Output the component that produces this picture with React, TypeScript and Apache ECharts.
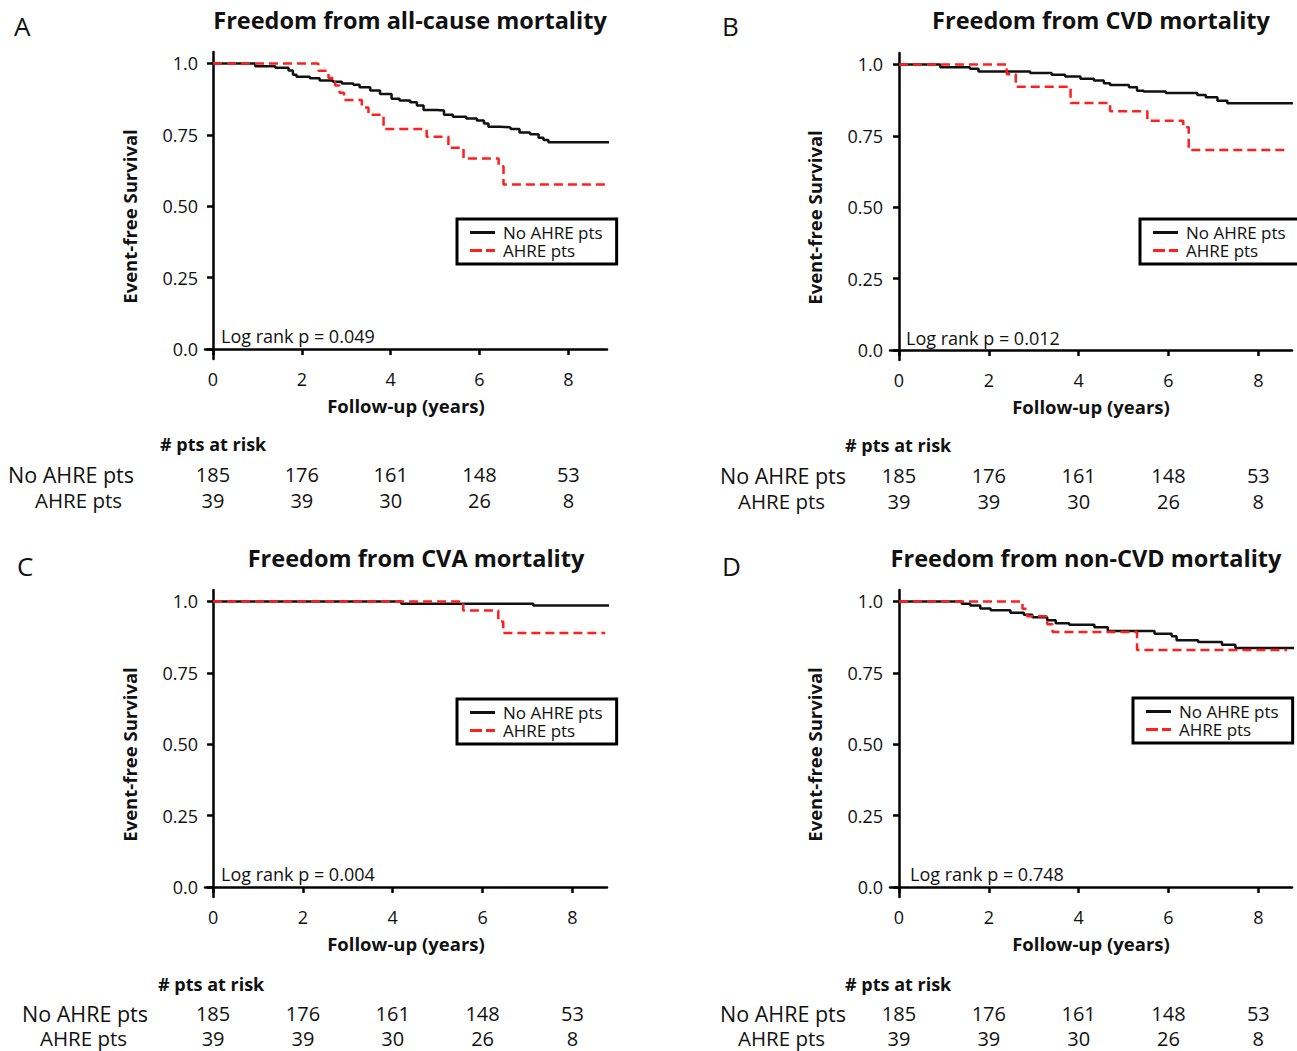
import React, { useEffect, useRef } from "react";
import * as echarts from "echarts";

// ---------- data ----------
const groupNames = ["No AHRE pts", "AHRE pts"];
const yearTicks = [0, 2, 4, 6, 8];
const survivalTicks = [0, 0.25, 0.5, 0.75, 1];
const panelLetters = ["A", "B", "C", "D"];
const panelTitles = [
  "Freedom from all-cause mortality",
  "Freedom from CVD mortality",
  "Freedom from CVA mortality",
  "Freedom from non-CVD mortality",
];
const logRankP = ["0.049", "0.012", "0.004", "0.748"];
const atRiskNoAhre = [185, 176, 161, 148, 53];
const atRiskAhre = [39, 39, 30, 26, 8];

// Kaplan-Meier step points [years, survival]
const allCauseNoAhre: [number, number][] = [
  [0, 1], [0.95, 0.99], [1.4, 0.985], [1.7, 0.975], [1.8, 0.96], [1.88, 0.953],
  [2.18, 0.948], [2.4, 0.94], [2.7, 0.936], [2.9, 0.93], [3.16, 0.925], [3.3, 0.917],
  [3.54, 0.905], [3.76, 0.893], [4.02, 0.876], [4.2, 0.87], [4.44, 0.864], [4.59, 0.853],
  [4.74, 0.837], [5.04, 0.835], [5.2, 0.82], [5.4, 0.813], [5.7, 0.807], [5.94, 0.8],
  [6.1, 0.79], [6.2, 0.778], [6.46, 0.776], [6.7, 0.77], [6.9, 0.758], [7.14, 0.752],
  [7.33, 0.74], [7.44, 0.732], [7.55, 0.724], [9.05, 0.724],
];
const allCauseAhre: [number, number][] = [
  [0, 1], [2.37, 0.974], [2.6, 0.949], [2.75, 0.923], [2.85, 0.897], [2.95, 0.872],
  [3.35, 0.846], [3.5, 0.82], [3.84, 0.77], [4.81, 0.743], [5.3, 0.705], [5.64, 0.667],
  [6.43, 0.64], [6.54, 0.576], [9.0, 0.576],
];
const cvdNoAhre: [number, number][] = [
  [0, 1], [0.92, 0.99], [1.58, 0.985], [1.77, 0.975], [2.92, 0.97], [3.4, 0.964],
  [3.7, 0.958], [4.04, 0.95], [4.34, 0.944], [4.56, 0.934], [4.7, 0.928], [5.12, 0.92],
  [5.3, 0.908], [5.45, 0.905], [5.94, 0.9], [6.64, 0.893], [6.83, 0.885], [7.09, 0.873],
  [7.31, 0.864], [8.77, 0.864],
];
const cvdAhre: [number, number][] = [
  [0, 1], [2.4, 0.966], [2.6, 0.922], [3.82, 0.865], [4.7, 0.836], [5.53, 0.803],
  [6.33, 0.78], [6.45, 0.7], [8.64, 0.7],
];
const cvaNoAhre: [number, number][] = [
  [0, 1], [4.19, 0.992], [7.13, 0.986], [8.9, 0.986],
];
const cvaAhre: [number, number][] = [
  [0, 1], [5.57, 0.968], [6.35, 0.93], [6.46, 0.889], [8.73, 0.889],
];
const nonCvdNoAhre: [number, number][] = [
  [0, 1], [1.4, 0.992], [1.59, 0.986], [1.81, 0.975], [2.04, 0.969], [2.48, 0.96],
  [2.78, 0.953], [2.97, 0.945], [3.3, 0.934], [3.49, 0.924], [3.79, 0.918], [4.35, 0.91],
  [4.65, 0.896], [5.69, 0.887], [6.07, 0.878], [6.18, 0.864], [6.66, 0.858], [7.19, 0.848],
  [7.49, 0.837], [8.95, 0.837],
];
const nonCvdAhre: [number, number][] = [
  [0, 1], [2.75, 0.974], [2.85, 0.948], [3.3, 0.92], [3.42, 0.893], [5.3, 0.83], [8.64, 0.83],
];

const panelCurves = [
  [allCauseNoAhre, allCauseAhre],
  [cvdNoAhre, cvdAhre],
  [cvaNoAhre, cvaAhre],
  [nonCvdNoAhre, nonCvdAhre],
];

// ---------- layout ----------
const FONT = '"Open Sans", "DejaVu Sans", sans-serif';
const layouts = [
  { left: 205, top: 52, xMin: -0.18, xMax: 8.87, titleX: 410, titleY: 20, letterX: 14, letterY: 26, legendLeft: 457, legendTop: 219, logX: 221, logY: 336, tblX: 160, tblY: 444, rowX1: 8, rowX2: 35, rowY1: 474, rowY2: 500 },
  { left: 890, top: 53, xMin: -0.2, xMax: 8.75, titleX: 1101, titleY: 20, letterX: 722, letterY: 26, legendLeft: 1140, legendTop: 219, logX: 906, logY: 338, tblX: 845, tblY: 445, rowX1: 720, rowX2: 738, rowY1: 475, rowY2: 501 },
  { left: 205, top: 590, xMin: -0.18, xMax: 8.77, titleX: 416, titleY: 558, letterX: 17, letterY: 566, legendLeft: 457, legendTop: 699, logX: 221, logY: 874, tblX: 158, tblY: 984, rowX1: 22, rowX2: 40, rowY1: 1013, rowY2: 1038 },
  { left: 890, top: 590, xMin: -0.2, xMax: 8.75, titleX: 1086, titleY: 558, letterX: 722, letterY: 566, legendLeft: 1133, legendTop: 698, logX: 910, logY: 874, tblX: 845, tblY: 984, rowX1: 720, rowX2: 738, rowY1: 1013, rowY2: 1038 },
];
const GRID_W = 402;
const GRID_H = 307;
const BLACK = "#111";
const RED = "#ff1f1f";

function fmtSurv(v: number) {
  if (v === 0) return "0.0";
  if (v === 1) return "1.0";
  return v.toFixed(2);
}

function text(x: number, y: number, s: string, size: number, align = "left", bold = false) {
  return {
    type: "text",
    x,
    y,
    silent: true,
    style: {
      text: s,
      fontFamily: FONT,
      fontSize: size,
      fontWeight: bold ? "bold" : "normal",
      lineHeight: Math.round(size),
      fill: BLACK,
      align,
      verticalAlign: "middle",
    },
  };
}

export default function App() {
  const ref = useRef<HTMLDivElement>(null);

  useEffect(() => {
    if (!ref.current) return;
    const chart = echarts.init(ref.current, null, { renderer: "svg" });

    const grid: any[] = [];
    const xAxis: any[] = [];
    const yAxis: any[] = [];
    const series: any[] = [];
    const legend: any[] = [];

    layouts.forEach((L, i) => {
      grid.push({ left: L.left, top: L.top, width: GRID_W, height: GRID_H, containLabel: false });
      const axisLine = { show: true, lineStyle: { color: "#000", width: 2.5 } };
      const axisTick = { show: true, inside: false, length: 6, lineStyle: { color: "#000", width: 2.5 } };
      xAxis.push({
        type: "value",
        gridIndex: i,
        min: L.xMin,
        max: L.xMax,
        axisLine,
        axisTick: { ...axisTick, customValues: yearTicks },
        axisLabel: { customValues: yearTicks, margin: 11, fontSize: 18, fontFamily: FONT, color: BLACK },
        splitLine: { show: false },
        name: "Follow-up (years)",
        nameLocation: "middle",
        nameGap: 37,
        nameTextStyle: { fontSize: 18.5, fontWeight: "bold", fontFamily: FONT, color: BLACK },
      });
      yAxis.push({
        type: "value",
        gridIndex: i,
        min: -0.035,
        max: 1.04,
        axisLine,
        axisTick: { ...axisTick, customValues: survivalTicks },
        axisLabel: { customValues: survivalTicks, margin: 7, fontSize: 18, fontFamily: FONT, color: BLACK, formatter: (v: number) => fmtSurv(v) },
        splitLine: { show: false },
        name: "Event-free Survival",
        nameLocation: "middle",
        nameRotate: 90,
        nameGap: 66,
        nameTextStyle: { fontSize: 18.5, fontWeight: "bold", fontFamily: FONT, color: BLACK, padding: [0, 22, 0, 0] },
      });
      const [noAhre, ahre] = panelCurves[i];
      series.push({
        name: groupNames[0],
        type: "line",
        xAxisIndex: i,
        yAxisIndex: i,
        data: noAhre,
        step: "end",
        symbol: "none",
        showSymbol: false,
        clip: false,
        lineStyle: { color: BLACK, width: 2.5 },
        itemStyle: { color: BLACK },
        z: 2,
      });
      series.push({
        name: groupNames[1],
        type: "line",
        xAxisIndex: i,
        yAxisIndex: i,
        data: ahre,
        step: "end",
        symbol: "none",
        showSymbol: false,
        clip: false,
        lineStyle: { color: RED, width: 2.5, type: [9, 5] },
        itemStyle: { color: RED },
        z: 3,
      });
      legend.push({
        left: L.legendLeft,
        top: L.legendTop,
        orient: "vertical",
        data: [
          { name: groupNames[0], icon: "path://M0,0h25v3h-25z" },
          { name: groupNames[1], icon: "path://M0,0h12v3h-12zM16,0h9v3h-9z" },
        ],
        itemWidth: 25,
        itemHeight: 3,
        itemGap: 1,
        padding: [5, 14, 5, 13],
        borderColor: "#000",
        borderWidth: 3,
        borderRadius: 0,
        backgroundColor: "#fff",
        selectedMode: false,
        itemStyle: { borderWidth: 0 },
        textStyle: { fontFamily: FONT, fontSize: 17, color: BLACK, lineHeight: 17, padding: [0, 0, 0, 3] },
      });
    });

    chart.setOption({
      animation: false,
      backgroundColor: "#fff",
      grid,
      xAxis,
      yAxis,
      series,
      legend,
    });

    const graphics: any[] = [];
    layouts.forEach((L, i) => {
      graphics.push(text(L.letterX, L.letterY, panelLetters[i], 26));
      graphics.push(text(L.titleX, L.titleY, panelTitles[i], 23.5, "center", true));
      graphics.push(text(L.logX, L.logY, `Log rank p = ${logRankP[i]}`, 18));
      graphics.push(text(L.tblX, L.tblY, "# pts at risk", 18, "left", true));
      graphics.push(text(L.rowX1, L.rowY1, groupNames[0], 21.5));
      graphics.push(text(L.rowX2, L.rowY2, groupNames[1], 20.5));
      yearTicks.forEach((yr, k) => {
        const px = chart.convertToPixel({ xAxisIndex: i }, yr) as number;
        graphics.push(text(px, L.rowY1, String(atRiskNoAhre[k]), 20, "center"));
        graphics.push(text(px, L.rowY2, String(atRiskAhre[k]), 20, "center"));
      });
    });
    chart.setOption({ graphic: graphics });

    return () => chart.dispose();
  }, []);

  return (
    <div style={{ position: "fixed", left: 0, top: 0, width: 1297, height: 1051, overflow: "hidden", background: "#fff" }}>
      <div ref={ref} style={{ width: 1340, height: 1051 }} />
    </div>
  );
}
